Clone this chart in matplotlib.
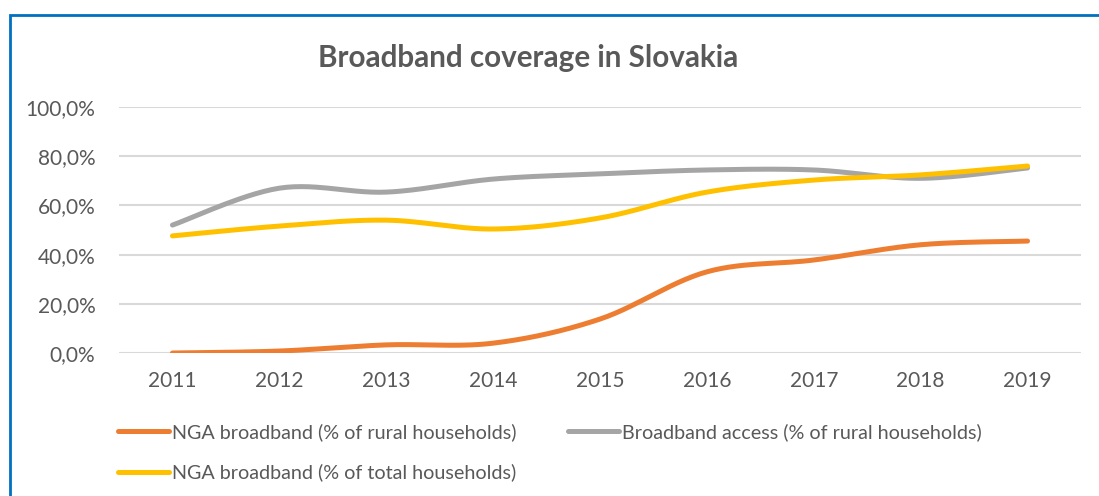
import numpy as np
import matplotlib.pyplot as plt
from matplotlib.patches import Rectangle

years = ['2011', '2012', '2013', '2014', '2015', '2016', '2017', '2018', '2019']
nga_rural = [0.0, 0.8, 3.3, 4.0, 13.8, 33.0, 37.8, 44.0, 45.5]
bb_rural = [52.0, 67.0, 65.4, 70.7, 72.8, 74.4, 74.4, 71.0, 75.2]
nga_total = [47.6, 51.6, 54.0, 50.4, 54.9, 65.4, 70.3, 72.4, 76.0]

labels = ['NGA broadband (% of rural households)',
          'Broadband access (% of rural households)',
          'NGA broadband (% of total households)']
colors = ['#ED7D31', '#A5A5A5', '#FFC000']

plt.rcParams['font.family'] = ['Lato', 'DejaVu Sans']


# smooth line like Excel (Catmull-Rom style bezier)
def smooth(x, y, n=30):
    x = np.asarray(x, float)
    y = np.asarray(y, float)
    px = np.concatenate([[x[0]], x, [x[-1]]])
    py = np.concatenate([[y[0]], y, [y[-1]]])
    xs, ys = [], []
    t = np.linspace(0, 1, n)
    for i in range(1, len(px) - 2):
        p0 = np.array([px[i], py[i]])
        p3 = np.array([px[i + 1], py[i + 1]])
        p1 = p0 + (p3 - np.array([px[i - 1], py[i - 1]])) / 6
        p2 = p3 - (np.array([px[i + 2], py[i + 2]]) - p0) / 6
        b = ((1 - t) ** 3)[:, None] * p0 + (3 * (1 - t) ** 2 * t)[:, None] * p1 \
            + (3 * (1 - t) * t ** 2)[:, None] * p2 + (t ** 3)[:, None] * p3
        xs.append(b[:, 0])
        ys.append(b[:, 1])
    return np.concatenate(xs), np.concatenate(ys)


fig = plt.figure(figsize=(10.99, 4.96), dpi=100)
ax = fig.add_axes([0.1083, 0.2883, 0.8753, 0.496])

x = np.arange(len(years))
handles = []
for vals, col, lab in zip([nga_rural, bb_rural, nga_total], colors, labels):
    sx, sy = smooth(x, vals)
    h, = ax.plot(sx, sy, color=col, lw=3.6, solid_capstyle='round', label=lab)
    handles.append(h)

ax.set_xlim(-0.5, 8.5)
ax.set_ylim(0, 100)
ax.set_yticks(np.arange(0, 101, 20))
ax.set_yticklabels([('%.1f%%' % v).replace('.', ',') for v in range(0, 101, 20)])
ax.set_xticks(x)
ax.set_xticklabels(years)
ax.tick_params(length=0, labelsize=15, labelcolor='#595959', pad=13)
ax.tick_params(axis='y', pad=17)
ax.grid(axis='y', color='#D9D9D9', lw=1.5)
ax.set_axisbelow(True)
for s in ax.spines.values():
    s.set_visible(False)

fig.text(0.4805, 0.883, 'Broadband coverage in Slovakia', ha='center', va='center',
         fontsize=21.3, fontweight='bold', color='#595959')

fig.legend([handles[0], handles[2], handles[1]], [labels[0], labels[2], labels[1]],
           ncol=2, loc='upper left', bbox_to_anchor=(0.091, 0.183), frameon=False,
           fontsize=14.2, labelcolor='#595959', handlelength=2.6, handletextpad=0.15,
           columnspacing=2.6, labelspacing=1.15)

fig.patches.append(Rectangle((10 / 1099, -0.1), 1.2, 1 - 15 / 496 + 0.1,
                             transform=fig.transFigure, fill=False,
                             edgecolor='#0070C0', lw=2))

fig.savefig('out.png', dpi=100)
